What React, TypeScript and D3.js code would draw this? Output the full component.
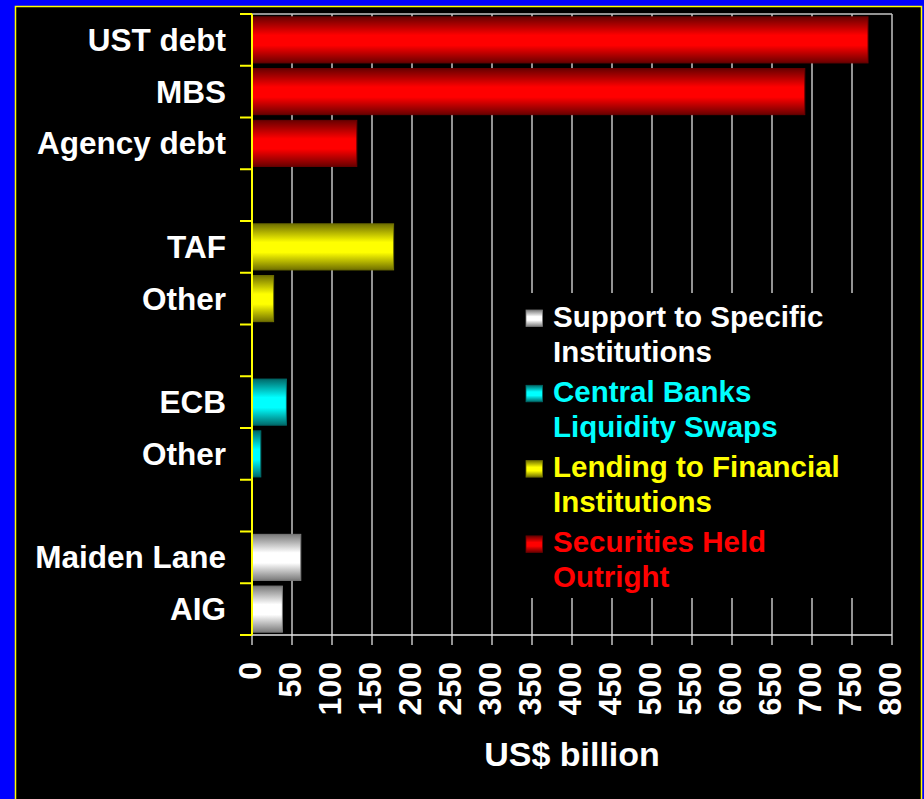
import React from "react";
import * as d3 from "d3";

// ---- data ----
const slotLabels = ["UST debt", "MBS", "Agency debt", "", "TAF", "Other", "", "ECB", "Other", "", "Maiden Lane", "AIG"];
const slotValues: (number | null)[] = [770, 691, 131, null, 177, 27, null, 43, 11, null, 61, 38];
const slotGroups = ["sec", "sec", "sec", "", "lend", "lend", "", "swap", "swap", "", "supp", "supp"];
const xTicks = [0, 50, 100, 150, 200, 250, 300, 350, 400, 450, 500, 550, 600, 650, 700, 750, 800];
const legendKeys = ["supp", "swap", "lend", "sec"];
const legendLines = [
  ["Support to Specific", "Institutions"],
  ["Central Banks", "Liquidity Swaps"],
  ["Lending to Financial", "Institutions"],
  ["Securities Held", "Outright"],
];
const axisTitle = "US$ billion";

const palette: Record<string, { bright: string; dark: string; text: string }> = {
  sec: { bright: "#ff0000", dark: "#6a0000", text: "#ff0000" },
  lend: { bright: "#ffff00", dark: "#707000", text: "#ffff00" },
  swap: { bright: "#00ffff", dark: "#006a6a", text: "#00ffff" },
  supp: { bright: "#ffffff", dark: "#7a7a7a", text: "#ffffff" },
};

const W = 924;
const H = 799;
const FONT = "'Liberation Sans', Arial, Helvetica, sans-serif";

export default function App() {
  const left = 252, right = 892, top = 14, bottom = 635;
  const x = d3.scaleLinear().domain([0, 800]).range([left, right]);
  const y = d3
    .scaleBand<number>()
    .domain(d3.range(slotLabels.length))
    .range([top, bottom])
    .paddingInner(0.11)
    .paddingOuter(0.055);
  const step = y.step();
  const boundaries = d3.range(slotLabels.length + 1).map((i) => top + i * step);

  return (
    <div style={{ position: "absolute", left: 0, top: 0, width: W, height: H }}>
      <svg width={W} height={H} style={{ display: "block" }} fontFamily={FONT}>
        <defs>
          {Object.keys(palette).map((k) => (
            <linearGradient key={k} id={`g-${k}`} x1="0" y1="0" x2="0" y2="1">
              <stop offset="0%" stopColor={palette[k].dark} />
              <stop offset="40%" stopColor={palette[k].bright} />
              <stop offset="62%" stopColor={palette[k].bright} />
              <stop offset="100%" stopColor={palette[k].dark} />
            </linearGradient>
          ))}
        </defs>
        <rect x={0} y={0} width={W} height={H} fill="#0000ff" />
        <rect x={15.5} y={6.5} width={906} height={H} fill="#000" stroke="#ffff00" strokeWidth={1.5} />

        {/* gridlines */}
        {xTicks.map((t) => (
          <line key={t} x1={x(t)} x2={x(t)} y1={top} y2={bottom + 10} stroke="#c4c4c4" strokeWidth={1.5} />
        ))}
        <line x1={left} x2={right} y1={top} y2={top} stroke="#c4c4c4" strokeWidth={1.5} />
        <line x1={left} x2={right} y1={bottom} y2={bottom} stroke="#e6e6e6" strokeWidth={1.5} />

        {/* bars */}
        {slotValues.map((v, i) =>
          v == null ? null : (
            <rect
              key={i}
              x={x(0)}
              y={y(i)!}
              width={x(v) - x(0)}
              height={y.bandwidth()}
              fill={`url(#g-${slotGroups[i]})`}
              stroke={palette[slotGroups[i]].dark}
              strokeWidth={1}
            />
          )
        )}

        {/* left axis */}
        <line x1={left} x2={left} y1={top} y2={bottom} stroke="#ffff00" strokeWidth={2} />
        {boundaries.map((b, i) => (
          <line key={i} x1={left - 12} x2={left} y1={b} y2={b} stroke="#ffff00" strokeWidth={2} />
        ))}

        {/* category labels */}
        {slotLabels.map((l, i) =>
          l ? (
            <text
              key={i}
              x={226}
              y={y(i)! + y.bandwidth() / 2}
              dy="0.35em"
              textAnchor="end"
              fill="#fff"
              fontWeight="bold"
              fontSize={31.5}
            >
              {l}
            </text>
          ) : null
        )}

        {/* x tick labels */}
        {xTicks.map((t) => (
          <text
            key={t}
            transform={`translate(${x(t) - 2.5},${662}) rotate(-90)`}
            textAnchor="end"
            dy="0.35em"
            fill="#fff"
            fontWeight="bold"
            fontSize={32}
          >
            {t}
          </text>
        ))}

        {/* axis title */}
        <text x={(left + right) / 2} y={766} textAnchor="middle" fill="#fff" fontWeight="bold" fontSize={34}>
          {axisTitle}
        </text>

        {/* legend */}
        <rect x={505} y={293} width={370} height={305} fill="#000" />
        {legendKeys.map((k, i) => {
          const base = 326.5 + i * 75.3;
          return (
            <g key={k}>
              <rect x={526} y={base - 16.5} width={16.5} height={16.5} fill={`url(#g-${k})`} stroke={palette[k].dark} strokeWidth={0.8} />
              {legendLines[i].map((ln, j) => (
                <text key={j} x={553} y={base + j * 35} fill={palette[k].text} fontWeight="bold" fontSize={29.5}>
                  {ln}
                </text>
              ))}
            </g>
          );
        })}
      </svg>
    </div>
  );
}
